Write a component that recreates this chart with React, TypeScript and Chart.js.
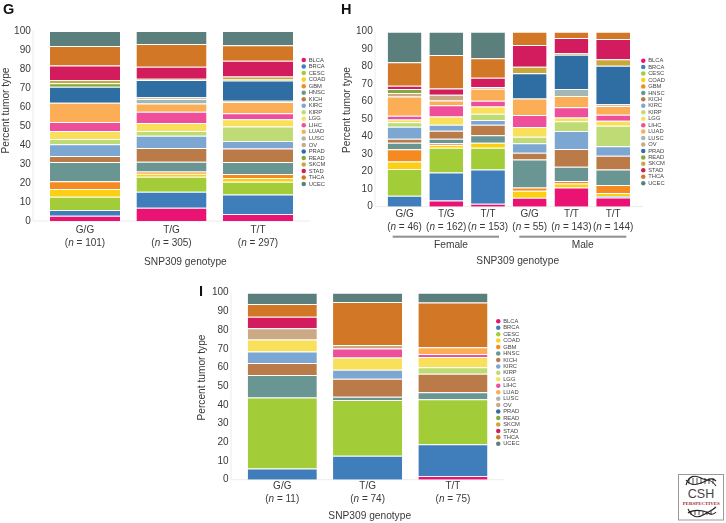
import React, { useEffect, useRef } from "react";
import { Chart, registerables } from "chart.js";

Chart.register(...registerables);

const tumorTypes = ["BLCA","BRCA","CESC","COAD","GBM","HNSC","KICH","KIRC","KIRP","LGG","LIHC","LUAD","LUSC","OV","PRAD","READ","SKCM","STAD","THCA","UCEC"];
const tumorColors = ["#EA1273","#3F7EBA","#A2CC38","#FBD014","#F58B20","#699592","#BB7B49","#7CA7D3","#BFDB75","#F8E05B","#EF4F9A","#FBAE55","#A3B8B5","#CCA985","#2F6EA3","#85A83A","#C9A83B","#D21C5E","#D27726","#5B7F7C"];

const gGenotypes = ["G/G","T/G","T/T"];
const gCounts = ["101","305","297"];
const gGG = [2.8,3,7,4,4.1,10.1,3.2,6.2,2.8,4.2,4.7,10.2,0,0,8.4,1.8,1.7,7.7,10.2,7.9];
const gTG = [7,8.4,7.9,1.6,1.2,5.1,7.2,6.5,2.5,4.2,5.9,4.4,2.3,0.9,9.1,0.2,0.5,6.3,12,6.8];
const gTT = [3.7,10.3,6.7,1.9,2.1,6.4,7.1,3.9,7.7,3.7,3.2,5.9,0.2,0.5,10.6,0.6,1.6,8.3,8.1,7.5];

const hGenotypes = ["G/G","T/G","T/T","G/G","T/T","T/T"];
const hCounts = ["46","162","153","55","143","144"];
const hFemaleGG = [0,6.3,15.2,4.4,6.9,3.8,2.3,6.8,2.5,1.7,2.1,11,0,2,0,2.2,0,1.9,13.4,17.5];
const hFemaleTG = [3.6,16,14.1,1.6,0.9,2.7,4.5,3.5,0,4.7,6.4,2.7,0,3.3,0,0,0,3.6,19.1,13.3];
const hFemaleTT = [1.7,19.6,12.4,2.9,0,4.2,6.1,2.6,3.6,4.2,3.3,6.8,0,1,0,0,0,5.3,11.1,15.2];
const hMaleGG = [5.1,0,0,4,1.9,16,3.9,5.3,3.8,5.5,6.9,9.5,0,0,14.3,0,3.8,12.4,7.6,0];
const hMaleTT143 = [11,0,0,2.3,1.4,8.2,10.1,10.2,5.6,2.2,5.9,6.3,4,0,19.7,0,0.8,8.7,3.6,0];
const hMaleTT144 = [5.3,0.8,0,1.7,4.6,8.9,7.8,5.4,11.8,2.8,3.5,4.9,0,1,22.1,0,3.6,11.6,4.2,0];

const iGenotypes = ["G/G","T/G","T/T"];
const iCounts = ["11","74","75"];
const iGG = [0,6,37.9,0,0,12.1,6.4,6.2,0,6.4,0,0,0,6,0,0,0,6.2,6.7,6.1];
const iTG = [0,12.8,29.8,0,0,1.8,9.6,4.8,0,6.6,4.8,0,0,1.8,0,0,0,0,23,5];
const iTT = [2,16.9,24.1,0,0,3.7,10,0,3.4,5.5,1.6,3.6,0,0,0,0,0,0,24,5.2];

const W = 726;
const H = 523;
const FONT = '"Liberation Sans", Arial, sans-serif';
const TEXT = "#3a3a3a";

type Panel = {
  genotypes: string[]; counts: string[]; columns: number[][];
  plot: { left: number; right: number; top: number; bottom: number };
  axisLeft: number; axisRight: number; tickPad: number; countY: number;
  legendLeft: number; legendTop: number; legendGap: number;
  titles: { text: string; x: number; y: number; rot?: boolean }[];
  rules: { x1: number; x2: number; y: number }[];
};

const panels: Panel[] = [
  {
    genotypes: gGenotypes, counts: gCounts, columns: [gGG, gTG, gTT],
    plot: { left: 41.75, right: 301.25, top: 31, bottom: 221 },
    axisLeft: 33, axisRight: 310, tickPad: 3.7, countY: 243.3,
    legendLeft: 301, legendTop: 56.4, legendGap: 0.73,
    titles: [
      { text: "Percent tumor type", x: 6.5, y: 110.5, rot: true },
      { text: "SNP309 genotype", x: 185.4, y: 261.7 },
    ],
    rules: [],
  },
  {
    genotypes: hGenotypes, counts: hCounts, columns: [hFemaleGG, hFemaleTG, hFemaleTT, hMaleGG, hMaleTT143, hMaleTT144],
    plot: { left: 383.7, right: 634, top: 31.7, bottom: 206.7 },
    axisLeft: 375, axisRight: 643, tickPad: 1.3, countY: 227,
    legendLeft: 640.6, legendTop: 57.1, legendGap: 0.65,
    titles: [
      { text: "Percent tumor type", x: 347, y: 110, rot: true },
      { text: "Female", x: 451, y: 245 },
      { text: "Male", x: 582.7, y: 245 },
      { text: "SNP309 genotype", x: 517.7, y: 261 },
    ],
    rules: [
      { x1: 392.7, x2: 499, y: 236.7 },
      { x1: 519.3, x2: 626.3, y: 236.7 },
    ],
  },
  {
    genotypes: iGenotypes, counts: iCounts, columns: [iGG, iTG, iTT],
    plot: { left: 239.6, right: 495.6, top: 292.7, bottom: 479.7 },
    axisLeft: 231, axisRight: 504, tickPad: 1, countY: 499.3,
    legendLeft: 495.6, legendTop: 317.7, legendGap: 0.65,
    titles: [
      { text: "Percent tumor type", x: 201.7, y: 377.5, rot: true },
      { text: "SNP309 genotype", x: 369.7, y: 516 },
    ],
    rules: [],
  },
];

function makeChart(canvas: HTMLCanvasElement, p: Panel) {
  const panelText = {
    id: "panelText",
    afterLayout(chart: any) {
      const lg = chart.legend;
      const h = lg.bottom - lg.top;
      lg.left = p.legendLeft;
      lg.right = p.legendLeft + 40;
      lg.top = p.legendTop;
      lg.bottom = p.legendTop + Math.max(h, 140);
    },
    beforeDatasetsDraw(chart: any) {
      const ctx = chart.ctx;
      ctx.save();
      ctx.strokeStyle = "#ececec";
      ctx.lineWidth = 1;
      ctx.beginPath();
      ctx.moveTo(p.axisLeft, p.plot.top);
      ctx.lineTo(p.axisLeft, p.plot.bottom);
      ctx.moveTo(p.axisLeft, p.plot.bottom);
      ctx.lineTo(p.axisRight, p.plot.bottom);
      ctx.stroke();
      ctx.restore();
    },
    afterDraw(chart: any) {
      const ctx = chart.ctx;
      ctx.save();
      ctx.fillStyle = TEXT;
      ctx.textBaseline = "middle";
      const x = chart.scales.x;
      p.counts.forEach((c, i) => {
        const a = "(";
        const b = ` = ${c})`;
        ctx.font = `10px ${FONT}`;
        const wa = ctx.measureText(a).width;
        const wb = ctx.measureText(b).width;
        ctx.font = `italic 10px ${FONT}`;
        const wn = ctx.measureText("n").width;
        let cx = x.getPixelForTick(i) - (wa + wb + wn) / 2;
        ctx.textAlign = "left";
        ctx.font = `10px ${FONT}`;
        ctx.fillText(a, cx, p.countY);
        cx += wa;
        ctx.font = `italic 10px ${FONT}`;
        ctx.fillText("n", cx, p.countY);
        cx += wn;
        ctx.font = `10px ${FONT}`;
        ctx.fillText(b, cx, p.countY);
      });
      ctx.textAlign = "center";
      ctx.font = `10.2px ${FONT}`;
      p.titles.forEach((t) => {
        ctx.save();
        ctx.translate(t.x, t.y);
        if (t.rot) ctx.rotate(-Math.PI / 2);
        ctx.fillText(t.text, 0, 0);
        ctx.restore();
      });
      ctx.fillStyle = "#8f8f8f";
      p.rules.forEach((r) => ctx.fillRect(r.x1, r.y - 1, r.x2 - r.x1, 2));
      ctx.restore();
    },
  };

  return new Chart(canvas, {
    type: "bar",
    data: {
      labels: p.genotypes,
      datasets: tumorTypes.map((name, s) => ({
        label: name,
        data: p.columns.map((col) => col[s]),
        backgroundColor: tumorColors[s],
        borderColor: "rgba(255,255,255,0.22)",
        borderWidth: { top: 1, right: 0, bottom: 0, left: 0 },
        borderSkipped: false,
        inflateAmount: 0,
        barPercentage: 0.81,
        categoryPercentage: 1,
      })),
    },
    options: {
      animation: false,
      responsive: false,
      devicePixelRatio: 1,
      events: [],
      layout: {
        padding: { left: 0, top: p.plot.top, right: W - p.plot.right - 1, bottom: 0 },
      },
      plugins: {
        tooltip: { enabled: false },
        title: { display: false },
        legend: {
          display: true,
          position: "right",
          align: "start",
          maxWidth: 1,
          labels: {
            usePointStyle: true,
            pointStyle: "circle",
            boxWidth: 4,
            boxHeight: 3.2,
            padding: p.legendGap,
            color: "#444444",
            font: { family: FONT, size: 5.8 },
          },
        },
      },
      scales: {
        x: {
          stacked: true,
          grid: { display: false, drawTicks: false },
          border: { display: false },
          ticks: {
            padding: p.tickPad,
            color: TEXT,
            maxRotation: 0,
            autoSkip: false,
            font: { family: FONT, size: 10 },
          },
          afterFit: (s: any) => { s.height = H - p.plot.bottom; },
        },
        y: {
          stacked: true,
          min: 0,
          max: 100,
          grid: { display: false, drawTicks: false },
          border: { display: false },
          ticks: {
            stepSize: 10,
            padding: 11,
            color: TEXT,
            font: { family: FONT, size: 10 },
          },
          afterFit: (s: any) => { s.width = p.plot.left; },
        },
      },
    } as any,
    plugins: [panelText],
  });
}

const letterStyle: React.CSSProperties = {
  position: "absolute",
  font: `bold 14.5px ${FONT}`,
  color: "#111",
  lineHeight: "16px",
};

const helixRungsTop = [689, 693, 697, 701, 705, 709, 713];
const helixRungsBottom = [691, 695, 699, 703, 707, 711];

function Logo() {
  const top = "M686 485 C689 475 695 475 701 478 C706 481 711 478 716 486";
  const top2 = "M686 480 C691 486 695 485 701 483 C707 481 711 476 716 481";
  const bot = "M688 509 C692 518 698 518 703 515 C708 512 712 511 716 507";
  const bot2 = "M688 513 C692 510 698 510 703 511 C708 512 712 517 716 512";
  return (
    <svg width={W} height={H} style={{ position: "absolute", left: 0, top: 0 }}>
      <rect x={678.5} y={474.5} width={45} height={45.5} fill="#fff" stroke="#999" strokeWidth={1} />
      <g fill="none" stroke="#222" strokeWidth={1.1}>
        <path d={top} />
        <path d={top2} />
        <path d={bot} />
        <path d={bot2} />
      </g>
      <g stroke="#222" strokeWidth={0.8}>
        {helixRungsTop.map((x) => <line key={x} x1={x} x2={x} y1={478} y2={484} />)}
        {helixRungsBottom.map((x) => <line key={x} x1={x} x2={x} y1={511} y2={515} />)}
      </g>
      <text x={701} y={498} textAnchor="middle" fontFamily={FONT} fontSize={12.5} fill="#444">CSH</text>
      <text x={701.3} y={505} textAnchor="middle" fontFamily='"Liberation Serif", serif' fontWeight="bold" fontSize={5} textLength={37} lengthAdjust="spacingAndGlyphs" fill="#9c2a36">PERSPECTIVES</text>
    </svg>
  );
}

export default function App() {
  const refs = [useRef<HTMLCanvasElement>(null), useRef<HTMLCanvasElement>(null), useRef<HTMLCanvasElement>(null)];
  useEffect(() => {
    const charts = panels.map((p, i) => makeChart(refs[i].current!, p));
    return () => charts.forEach((c) => c.destroy());
  }, []);
  return (
    <div style={{ position: "absolute", left: 0, top: 0, width: W, height: H, background: "#fff", overflow: "hidden", filter: "blur(0.3px)" }}>
      {refs.map((r, i) => (
        <canvas key={i} ref={r} width={W} height={H} style={{ position: "absolute", left: 0, top: 0, width: W, height: H }} />
      ))}
      <div style={{ ...letterStyle, left: 3, top: 1 }}>G</div>
      <div style={{ ...letterStyle, left: 341, top: 1 }}>H</div>
      <div style={{ ...letterStyle, left: 199, top: 283 }}>I</div>
      <Logo />
    </div>
  );
}
